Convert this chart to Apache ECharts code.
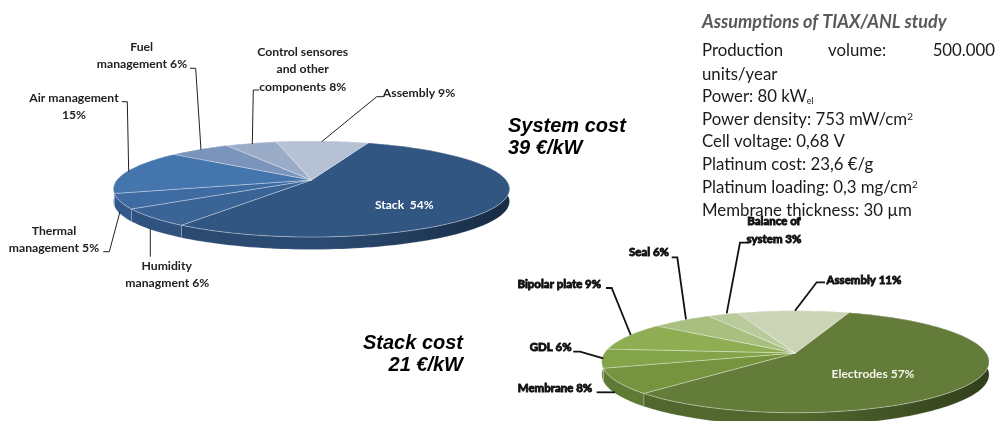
<!DOCTYPE html>
<html><head><meta charset="utf-8">
<style>html,body{margin:0;padding:0;background:#fff}#c{width:997px;height:421px}</style>
<script src="https://cdn.jsdelivr.net/npm/echarts@6/dist/echarts.min.js"></script>
</head><body><div id="c"></div>
<script>
// ---- data ----
const systemCategories = ['Stack','Humidity managment','Thermal management','Air management','Fuel management','Control sensores and other components','Assembly'];
const systemValues = [54,6,5,15,6,5,9];
const stackCategories = ['Electrodes','Membrane','GDL','Bipolar plate','Seal','Balance of system','Assembly'];
const stackValues = [57,8,6,9,6,3,11];
// ---- styles ----
const systemColors = ['#325682','#3a6396','#3e6ba1','#4575ad','#7b94bb','#9bacc9','#b6c1d6'];
const systemSides  = ['#2b4a72','#2f5280','#33598a','#3a659b','#6a83a8','#8a9cb8','#a3afc4'];
const stackColors  = ['#647c3a','#76943f','#84a449','#8fae54','#a8bf80','#b9cb9b','#cbd5b6'];
const stackSides   = ['#52672e','#5f7a35','#6b893b','#7a9947','#93aa6e','#a5b788','#b6c2a2'];
const systemPie = {cx:311.5, cy:180, a:194.5, b:46.3, p:0.1875, h:12.5, start:20};
const stackPie  = {cx:795.4, cy:353, a:190.8, b:49.5, p:0.1706, h:13,   start:19};

function project(g, deg){
  const t = deg*Math.PI/180, u = Math.sin(t), v = Math.cos(t), w = 1 + g.p*v;
  return [g.cx + g.a*u/w, g.cy - g.b*v/w];
}
function arcPoints(g, a0, a1){
  const pts = [], n = Math.max(2, Math.ceil((a1-a0)/1.5));
  for (let i=0;i<=n;i++) pts.push(project(g, a0+(a1-a0)*i/n));
  return pts;
}
function cumulative(values){
  let s = 0; return values.map(v => { const r=[s,s+v]; s+=v; return r; });
}
function pieSeries(name, cats, values, g, tops, sides, sideDark){
  const total = values.reduce((a,b)=>a+b,0);
  const data = cumulative(values).map((r,i)=>({name:cats[i], value:r}));
  const ang = (api,d)=> g.start + api.value(d)/total*360;
  return [{
    type:'custom', name:name+' side', coordinateSystem:'none', z:1, silent:true, data,
    renderItem(params, api){
      const arc = arcPoints(g, ang(api,0), ang(api,1));
      const low = arc.slice().reverse().map(p=>[p[0],p[1]+g.h]);
      const fill = params.dataIndex===0
        ? new echarts.graphic.LinearGradient(0,0,1,0,[{offset:0,color:sides[0]},{offset:.45,color:sides[0]},{offset:1,color:sideDark}])
        : sides[params.dataIndex];
      return {type:'polygon', shape:{points:arc.concat(low)}, style:{fill, stroke:'rgba(255,255,255,.35)', lineWidth:.5}};
    }
  },{
    type:'custom', name:name, coordinateSystem:'none', z:2, silent:true, data,
    renderItem(params, api){
      const pts = [[g.cx,g.cy]].concat(arcPoints(g, ang(api,0), ang(api,1)));
      return {type:'polygon', shape:{points:pts}, style:{fill:tops[params.dataIndex], stroke:'rgba(255,255,255,.45)', lineWidth:.7}};
    }
  }];
}
// ---- annotations ----
const sysFont = {fontFamily:'Lato', fontWeight:'bold', fontSize:12.2, fill:'#222'};
const grnFont = {fontFamily:'Lato', fontWeight:'bold', fontSize:11.5, fill:'#111', stroke:'#111', lineWidth:.9};
const systemLabels = [
  ['Fuel',141.7,46.7],['management 6%',142,64],
  ['Control sensores',302.7,51.7],['and other',302.7,69],['components 8%',302.7,86.7],
  ['Assembly 9%',419,92.7],
  ['Air management',74,97.7],['15%',74,115],
  ['Thermal',54,230.7],['management 5%',54,248],
  ['Humidity',166.7,266],['managment 6%',167.3,282.7]
];
const stackLabels = [
  ['Balance of',774,221.7],['system 3%',774,239],['Seal 6%',649,252.3],['Bipolar plate 9%',559.3,284],
  ['GDL 6%',550.7,347.7],['Membrane 8%',555,388.3],['Assembly 11%',864,280]
];
const systemLeaders = [
  [[190,68.3],[195.7,68.3],[201,150]],
  [[259.3,90],[253.3,90],[252.3,144]],
  [[383,96.7],[376.7,96.7],[321.7,141.7]],
  [[121.7,101.7],[127.3,101.7],[128.7,171.7]],
  [[103.3,251.7],[109.3,251.7],[120,211.7]],
  [[150.3,256.7],[150.3,228.3]]
];
const stackLeaders = [
  [[748,242.7],[740,242.7],[726.7,313.3]],
  [[671.7,257.3],[677.3,257.3],[686,319.3]],
  [[606,288],[611.7,288],[630.7,335]],
  [[573.3,351.7],[580,351.7],[603.3,358.3]],
  [[596.7,392.3],[615,392.3]],
  [[825,282.3],[816.7,282.3],[795,310.7]]
];
const bodyFont = {fontFamily:'Lato', fontSize:16.8, fill:'#1a1a1a'};
const assumptionLines = [
  ['units/year',75],['Power: 80 kW{sub|el}',97],['Power density: 753 mW/cm{sup|2}',120],
  ['Cell voltage: 0,68 V',142],['Platinum cost: 23,6 €/g',165],['Platinum loading: 0,3 mg/cm{sup|2}',188],
  ['Membrane thickness: 30 µm',211]
];
const T = (text,x,y,style,align)=>({type:'text',x,y,z:10,silent:true,style:Object.assign({text,textAlign:align||'center',textVerticalAlign:'middle'},style)});
const L = (pts,color,w)=>({type:'polyline',z:5,silent:true,shape:{points:pts},style:{stroke:color,lineWidth:w,fill:null}});
const head = {fontFamily:'Liberation Sans',fontWeight:'bold',fontStyle:'italic',fontSize:20,fill:'#000'};
const rich = {
  sub:{fontFamily:'Lato',fontSize:9,fill:'#1a1a1a',verticalAlign:'bottom'},
  sup:{fontFamily:'Lato',fontSize:10,fill:'#1a1a1a',verticalAlign:'top'}
};
const graphics = [
  ...systemLeaders.map(p=>L(p,'#222',1)),
  ...stackLeaders.map(p=>L(p,'#111',1.8)),
  ...systemLabels.map(l=>T(l[0],l[1],l[2],sysFont)),
  ...stackLabels.map(l=>T(l[0],l[1],l[2],grnFont)),
  T('Stack  54%',404.3,205,Object.assign({},sysFont,{fill:'#fff',fontSize:12})),
  T('Electrodes 57%',873,374,Object.assign({},sysFont,{fill:'#f3f5ec',fontSize:12})),
  T('System cost',508,126,head,'left'),T('39 €/kW',508,148,head,'left'),
  T('Stack cost',463,343,head,'right'),T('21 €/kW',463,365,head,'right'),
  T('Assumptions of TIAX/ANL study',702,22,{fontFamily:'Lato',fontWeight:'bold',fontStyle:'italic',fontSize:18,fill:'#595959'},'left'),
  T('Production',702,51,bodyFont,'left'),T('volume:',828,51,bodyFont,'left'),T('500.000',995,51,bodyFont,'right'),
  ...assumptionLines.map(l=>T(l[0],702,l[1],Object.assign({},bodyFont,{rich}),'left'))
];
const chart = echarts.init(document.getElementById('c'),null,{renderer:'canvas'});
chart.setOption({
  animation:false, backgroundColor:'#fff',
  series:[
    ...pieSeries('System cost',systemCategories,systemValues,systemPie,systemColors,systemSides,'#172b42'),
    ...pieSeries('Stack cost',stackCategories,stackValues,stackPie,stackColors,stackSides,'#303e1b')
  ],
  graphic:{elements:graphics}
});
</script></body></html>
